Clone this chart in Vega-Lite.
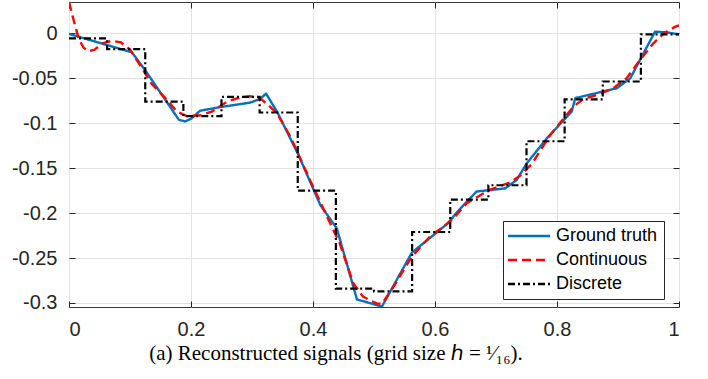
{
  "$schema": "https://vega.github.io/schema/vega-lite/v6.json",
  "width": 610,
  "height": 305,
  "autosize": {"type": "none"},
  "padding": {"left": 69, "top": 2, "right": 29, "bottom": 72},
  "config": {
    "view": {"stroke": "#3a3a3a", "strokeWidth": 1},
    "font": "Liberation Sans",
    "axis": {
      "domain": false,
      "labelFont": "Liberation Sans",
      "labelFontSize": 20,
      "labelColor": "#262626",
      "tickColor": "#262626",
      "tickSize": 6,
      "gridColor": "#e3e3e3",
      "gridWidth": 1,
      "title": null
    }
  },
  "title": {
    "text": "(a) Reconstructed signals (grid size ℎ = ¹⁄₁₆).",
    "orient": "bottom",
    "anchor": "middle",
    "font": "Liberation Serif",
    "fontSize": 21,
    "fontWeight": "normal",
    "color": "#000000",
    "offset": 4,
    "dx": -38
  },
  "data": {
    "values": [
      {"s": "Ground truth", "x": 0, "y": -0.0005},
      {"s": "Ground truth", "x": 0.103, "y": -0.021},
      {"s": "Ground truth", "x": 0.125, "y": -0.041},
      {"s": "Ground truth", "x": 0.18, "y": -0.096},
      {"s": "Ground truth", "x": 0.19, "y": -0.098},
      {"s": "Ground truth", "x": 0.2, "y": -0.095},
      {"s": "Ground truth", "x": 0.215, "y": -0.086},
      {"s": "Ground truth", "x": 0.248, "y": -0.082},
      {"s": "Ground truth", "x": 0.297, "y": -0.077},
      {"s": "Ground truth", "x": 0.313, "y": -0.073},
      {"s": "Ground truth", "x": 0.323, "y": -0.067},
      {"s": "Ground truth", "x": 0.341, "y": -0.087},
      {"s": "Ground truth", "x": 0.357, "y": -0.109},
      {"s": "Ground truth", "x": 0.376, "y": -0.135},
      {"s": "Ground truth", "x": 0.412, "y": -0.191},
      {"s": "Ground truth", "x": 0.439, "y": -0.217},
      {"s": "Ground truth", "x": 0.472, "y": -0.296},
      {"s": "Ground truth", "x": 0.513, "y": -0.304},
      {"s": "Ground truth", "x": 0.562, "y": -0.244},
      {"s": "Ground truth", "x": 0.62, "y": -0.212},
      {"s": "Ground truth", "x": 0.64, "y": -0.196},
      {"s": "Ground truth", "x": 0.668, "y": -0.176},
      {"s": "Ground truth", "x": 0.715, "y": -0.1725},
      {"s": "Ground truth", "x": 0.734, "y": -0.163},
      {"s": "Ground truth", "x": 0.75, "y": -0.145},
      {"s": "Ground truth", "x": 0.783, "y": -0.117},
      {"s": "Ground truth", "x": 0.824, "y": -0.087},
      {"s": "Ground truth", "x": 0.83, "y": -0.072},
      {"s": "Ground truth", "x": 0.873, "y": -0.065},
      {"s": "Ground truth", "x": 0.898, "y": -0.061},
      {"s": "Ground truth", "x": 0.92, "y": -0.05},
      {"s": "Ground truth", "x": 0.9607, "y": 0.002},
      {"s": "Ground truth", "x": 0.982, "y": 0.001},
      {"s": "Ground truth", "x": 1, "y": -0.001},

      {"s": "Continuous", "x": 0, "y": 0.035},
      {"s": "Continuous", "x": 0.0075, "y": 0.015},
      {"s": "Continuous", "x": 0.016, "y": -0.006},
      {"s": "Continuous", "x": 0.024, "y": -0.016},
      {"s": "Continuous", "x": 0.032, "y": -0.02},
      {"s": "Continuous", "x": 0.042, "y": -0.018},
      {"s": "Continuous", "x": 0.055, "y": -0.011},
      {"s": "Continuous", "x": 0.07, "y": -0.008},
      {"s": "Continuous", "x": 0.085, "y": -0.01},
      {"s": "Continuous", "x": 0.1, "y": -0.018},
      {"s": "Continuous", "x": 0.122, "y": -0.041},
      {"s": "Continuous", "x": 0.134, "y": -0.055},
      {"s": "Continuous", "x": 0.158, "y": -0.072},
      {"s": "Continuous", "x": 0.177, "y": -0.087},
      {"s": "Continuous", "x": 0.193, "y": -0.092},
      {"s": "Continuous", "x": 0.215, "y": -0.091},
      {"s": "Continuous", "x": 0.234, "y": -0.087},
      {"s": "Continuous", "x": 0.259, "y": -0.076},
      {"s": "Continuous", "x": 0.281, "y": -0.071},
      {"s": "Continuous", "x": 0.297, "y": -0.07},
      {"s": "Continuous", "x": 0.313, "y": -0.072},
      {"s": "Continuous", "x": 0.327, "y": -0.08},
      {"s": "Continuous", "x": 0.341, "y": -0.089},
      {"s": "Continuous", "x": 0.363, "y": -0.115},
      {"s": "Continuous", "x": 0.395, "y": -0.163},
      {"s": "Continuous", "x": 0.428, "y": -0.211},
      {"s": "Continuous", "x": 0.444, "y": -0.234},
      {"s": "Continuous", "x": 0.466, "y": -0.278},
      {"s": "Continuous", "x": 0.482, "y": -0.293},
      {"s": "Continuous", "x": 0.504, "y": -0.3005},
      {"s": "Continuous", "x": 0.513, "y": -0.301},
      {"s": "Continuous", "x": 0.532, "y": -0.282},
      {"s": "Continuous", "x": 0.562, "y": -0.2485},
      {"s": "Continuous", "x": 0.592, "y": -0.226},
      {"s": "Continuous", "x": 0.614, "y": -0.215},
      {"s": "Continuous", "x": 0.63, "y": -0.206},
      {"s": "Continuous", "x": 0.652, "y": -0.189},
      {"s": "Continuous", "x": 0.69, "y": -0.174},
      {"s": "Continuous", "x": 0.723, "y": -0.166},
      {"s": "Continuous", "x": 0.74, "y": -0.158},
      {"s": "Continuous", "x": 0.759, "y": -0.145},
      {"s": "Continuous", "x": 0.789, "y": -0.113},
      {"s": "Continuous", "x": 0.827, "y": -0.0815},
      {"s": "Continuous", "x": 0.843, "y": -0.073},
      {"s": "Continuous", "x": 0.865, "y": -0.0685},
      {"s": "Continuous", "x": 0.892, "y": -0.061},
      {"s": "Continuous", "x": 0.914, "y": -0.05},
      {"s": "Continuous", "x": 0.936, "y": -0.0295},
      {"s": "Continuous", "x": 0.958, "y": -0.011},
      {"s": "Continuous", "x": 0.975, "y": 0},
      {"s": "Continuous", "x": 0.994, "y": 0.0076},
      {"s": "Continuous", "x": 1, "y": 0.009},

      {"s": "Discrete", "x": 0, "y": -0.0055},
      {"s": "Discrete", "x": 0.0625, "y": -0.0175},
      {"s": "Discrete", "x": 0.125, "y": -0.076},
      {"s": "Discrete", "x": 0.1875, "y": -0.092},
      {"s": "Discrete", "x": 0.25, "y": -0.0705},
      {"s": "Discrete", "x": 0.3125, "y": -0.088},
      {"s": "Discrete", "x": 0.375, "y": -0.175},
      {"s": "Discrete", "x": 0.4375, "y": -0.284},
      {"s": "Discrete", "x": 0.5, "y": -0.287},
      {"s": "Discrete", "x": 0.5625, "y": -0.221},
      {"s": "Discrete", "x": 0.625, "y": -0.185},
      {"s": "Discrete", "x": 0.6875, "y": -0.169},
      {"s": "Discrete", "x": 0.75, "y": -0.12},
      {"s": "Discrete", "x": 0.8125, "y": -0.0735},
      {"s": "Discrete", "x": 0.875, "y": -0.0535},
      {"s": "Discrete", "x": 0.9375, "y": -0.001},
      {"s": "Discrete", "x": 1, "y": -0.001}
    ]
  },
  "layer": [
    {
      "transform": [{"filter": "datum.s === 'Ground truth'"}],
      "mark": {"type": "line", "strokeWidth": 2.4, "strokeJoin": "round", "clip": true},
      "encoding": {
        "x": {
          "field": "x", "type": "quantitative",
          "scale": {"domain": [0, 1], "nice": false, "zero": false},
          "axis": {
            "orient": "bottom",
            "values": [0, 0.2, 0.4, 0.6, 0.8, 1],
            "labelExpr": "format(datum.value, '')",
            "ticks": false,
            "labelPadding": 12,
            "grid": true
          }
        },
        "y": {
          "field": "y", "type": "quantitative",
          "scale": {"domain": [-0.3045, 0.035], "nice": false, "zero": false},
          "axis": {
            "orient": "left",
            "values": [-0.3, -0.25, -0.2, -0.15, -0.1, -0.05, 0],
            "labelExpr": "datum.value == 0 ? '0' : '-' + format(abs(datum.value), '')",
            "ticks": false,
            "labelPadding": 12,
            "grid": true
          }
        },
        "color": {
          "field": "s", "type": "nominal",
          "scale": {"domain": ["Ground truth", "Continuous", "Discrete"], "range": ["#0072BD", "#FF0000", "#000000"]},
          "legend": {
            "title": null,
            "orient": "none",
            "legendX": 434,
            "legendY": 219,
            "symbolType": "M-10.5,0H10.5",
            "symbolSize": 16,
            "symbolOffset": 11,
            "labelOffset": 18,
            "symbolStrokeWidth": 2.4,
            "labelFont": "Liberation Sans",
            "labelFontSize": 18,
            "labelColor": "#000000",
            "strokeColor": "#262626",
            "fillColor": "#ffffff",
            "padding": 6,
            "rowPadding": 6
          }
        },
        "strokeDash": {
          "field": "s", "type": "nominal",
          "scale": {"domain": ["Ground truth", "Continuous", "Discrete"], "range": [[1, 0], [9, 5], [7, 3, 2, 3]]},
          "legend": null
        }
      }
    },
    {
      "transform": [{"filter": "datum.s === 'Continuous'"}],
      "mark": {"type": "line", "strokeWidth": 2.4, "clip": true},
      "encoding": {
        "x": {
          "field": "x", "type": "quantitative",
          "axis": {"orient": "top", "offset": -6, "values": [0, 0.2, 0.4, 0.6, 0.8, 1], "labels": false, "grid": false}
        },
        "y": {
          "field": "y", "type": "quantitative",
          "axis": {"orient": "right", "offset": -6, "values": [-0.3, -0.25, -0.2, -0.15, -0.1, -0.05, 0], "labels": false, "grid": false}
        },
        "color": {"field": "s", "type": "nominal"},
        "strokeDash": {"field": "s", "type": "nominal"}
      }
    },
    {
      "transform": [{"filter": "datum.s === 'Discrete'"}],
      "mark": {"type": "line", "strokeWidth": 2.2, "interpolate": "step-after", "clip": true},
      "encoding": {
        "x": {
          "field": "x", "type": "quantitative",
          "axis": {"orient": "bottom", "offset": -6, "values": [0, 0.2, 0.4, 0.6, 0.8, 1], "labels": false, "grid": false}
        },
        "y": {
          "field": "y", "type": "quantitative",
          "axis": {"orient": "left", "offset": -6, "values": [-0.3, -0.25, -0.2, -0.15, -0.1, -0.05, 0], "labels": false, "grid": false}
        },
        "color": {"field": "s", "type": "nominal"},
        "strokeDash": {"field": "s", "type": "nominal"}
      }
    }
  ],
  "resolve": {"axis": {"x": "independent", "y": "independent"}}
}
